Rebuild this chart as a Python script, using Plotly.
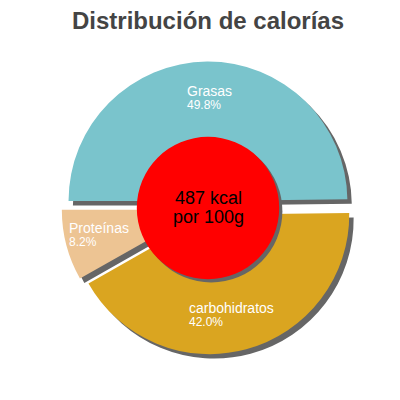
import math
import plotly.graph_objects as go

# datos de la tarta
labels = ["Grasas", "Proteínas", "carbohidratos"]
values = [49.8, 8.2, 42.0]
colors = ["#7AC4CC", "#EDC493", "#DAA520"]
center_lines = ["487 kcal", "por 100g"]
title = "Distribución de calorías"

FONT = "Liberation Sans, Arial, sans-serif"
W = H = 400

# pie domain (paper), sin margenes
d0, d1 = 0.134, 0.866
PULL = 0.05
HOLE = 0.42
sh = 0.011  # desplazamiento sombra

shadow = go.Pie(
    labels=labels, values=values, sort=False,
    direction="counterclockwise", rotation=-90,
    pull=PULL, hole=HOLE,
    marker=dict(colors=["#666666"] * len(values), line=dict(width=0)),
    textinfo="none", hoverinfo="skip", showlegend=False,
    domain=dict(x=[d0 + sh, d1 + sh], y=[d0 - sh, d1 - sh]),
)

pie = go.Pie(
    labels=labels, values=values, sort=False,
    direction="counterclockwise", rotation=-90,
    pull=PULL, hole=HOLE,
    marker=dict(colors=colors, line=dict(width=0)),
    textinfo="none", hoverinfo="skip", showlegend=False,
    domain=dict(x=[d0, d1], y=[d0, d1]),
)

fig = go.Figure([shadow, pie])

# etiquetas: alineadas a la izquierda, en el angulo medio de cada porcion
R = (d1 - d0) / (2 + 2 * PULL)
total = sum(values)
annots = []
start = 0.0
for lab, v in zip(labels, values):
    mid = math.radians((start + v / 2) / total * 360)
    start += v
    rr = R * (PULL + 0.74)
    cx = 0.5 + rr * math.cos(mid)
    cy = 0.5 + rr * math.sin(mid)
    left = cx - (len(lab) * 7.0 / 2 + 1.5) / W
    annots.append(dict(
        text=lab, x=left, y=cy + 7 / H, xref="paper", yref="paper",
        xanchor="left", yanchor="middle", showarrow=False, borderpad=0,
        font=dict(family=FONT, size=14, color="white"),
    ))
    annots.append(dict(
        text="%.1f%%" % (v / total * 100), x=left, y=cy - 7 / H,
        xref="paper", yref="paper", xanchor="left", yanchor="middle",
        showarrow=False, borderpad=0,
        font=dict(family=FONT, size=12, color="white"),
    ))

for i, line in enumerate(center_lines):
    annots.append(dict(text=line, x=0.5, y=0.5 + (9.5 - 19 * i) / H,
                       xref="paper", yref="paper", showarrow=False, borderpad=0,
                       font=dict(family=FONT, size=18, color="black")))

r = 0.178  # radio circulo rojo en paper
fig.update_layout(
    width=W, height=H,
    margin=dict(l=0, r=0, t=0, b=0),
    paper_bgcolor="white", plot_bgcolor="white",
    title=dict(text="<b>" + title + "</b>", x=0.5, y=0.99, xanchor="center", yanchor="top",
               font=dict(family=FONT, size=24, color="#444444")),
    shapes=[
        dict(type="circle", xref="paper", yref="paper",
             x0=0.5 - r + 0.008, x1=0.5 + r + 0.008,
             y0=0.5 - r - 0.008, y1=0.5 + r - 0.008,
             fillcolor="#666666", line=dict(width=0)),
        dict(type="circle", xref="paper", yref="paper",
             x0=0.5 - r, x1=0.5 + r, y0=0.5 - r, y1=0.5 + r,
             fillcolor="#FF0000", line=dict(width=0)),
    ],
    annotations=annots,
)

fig.write_html("out.html")
